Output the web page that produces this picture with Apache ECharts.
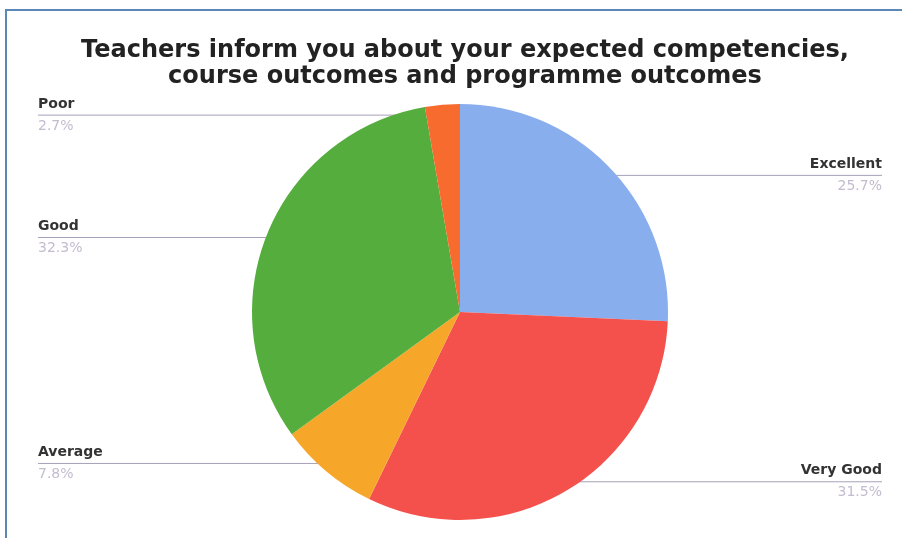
<!DOCTYPE html>
<html>
<head>
<meta charset="utf-8">
<script src="https://cdn.jsdelivr.net/npm/echarts@6/dist/echarts.min.js"></script>
<style>
  html, body { margin: 0; padding: 0; background: #fff; }
  #chart { width: 902px; height: 538px; }
  #frame {
    position: absolute; left: 5px; top: 9px; width: 910px; height: 540px;
    border-left: 2px solid #5b86b8; border-top: 2px solid #5b86b8;
    pointer-events: none;
  }
</style>
</head>
<body>
<div id="chart"></div>
<div id="frame"></div>
<script>
const categories = ['Excellent', 'Very Good', 'Average', 'Good', 'Poor']
const values = [25.7, 31.5, 7.8, 32.3, 2.7]
const colors = ['#89aeee', '#f4514c', '#f6a72a', '#54ad3c', '#f76b2e']

const center = [460, 312]

const chart = echarts.init(document.getElementById('chart'))

const option = {
  animation: false,
  color: colors,
  title: {
    text: 'Teachers inform you about your expected competencies,\ncourse outcomes and programme outcomes',
    left: 460,
    top: 33,
    textAlign: 'center',
    textStyle: {
      fontFamily: 'DejaVu Sans',
      fontWeight: 'bold',
      fontSize: 24,
      lineHeight: 26,
      color: '#222'
    }
  },
  series: [
    {
      type: 'pie',
      center: center,
      radius: 208,
      startAngle: 90,
      clockwise: true,
      data: categories.map((name, i) => ({ name: name, value: values[i] })),
      label: {
        show: true,
        formatter: (p) => '{n|' + p.name + '}\n{v|' + p.value.toFixed(1) + '%}',
        rich: {
          n: { fontFamily: 'DejaVu Sans', fontWeight: 'bold', fontSize: 14, color: '#333', lineHeight: 22 },
          v: { fontFamily: 'DejaVu Sans', fontSize: 14, color: '#c4bccf', lineHeight: 22 }
        }
      },
      labelLine: {
        show: true,
        length: 0,
        length2: 10,
        lineStyle: { color: '#a7a0bb', width: 1 }
      },
      labelLayout: function (p) {
        const s = p.labelLinePoints[0]
        const sx = center[0] + (s[0] - center[0]) * 0.95
        const sy = center[1] + (s[1] - center[1]) * 0.95
        const left = s[0] < center[0]
        const ex = left ? 38 : 882
        return {
          x: ex,
          y: sy,
          align: left ? 'left' : 'right',
          verticalAlign: 'middle',
          labelLinePoints: [[sx, sy], [sx, sy], [ex, sy]]
        }
      },
      itemStyle: { borderWidth: 0 },
      emphasis: { disabled: true }
    }
  ]
}

chart.setOption(option)
</script>
</body>
</html>
